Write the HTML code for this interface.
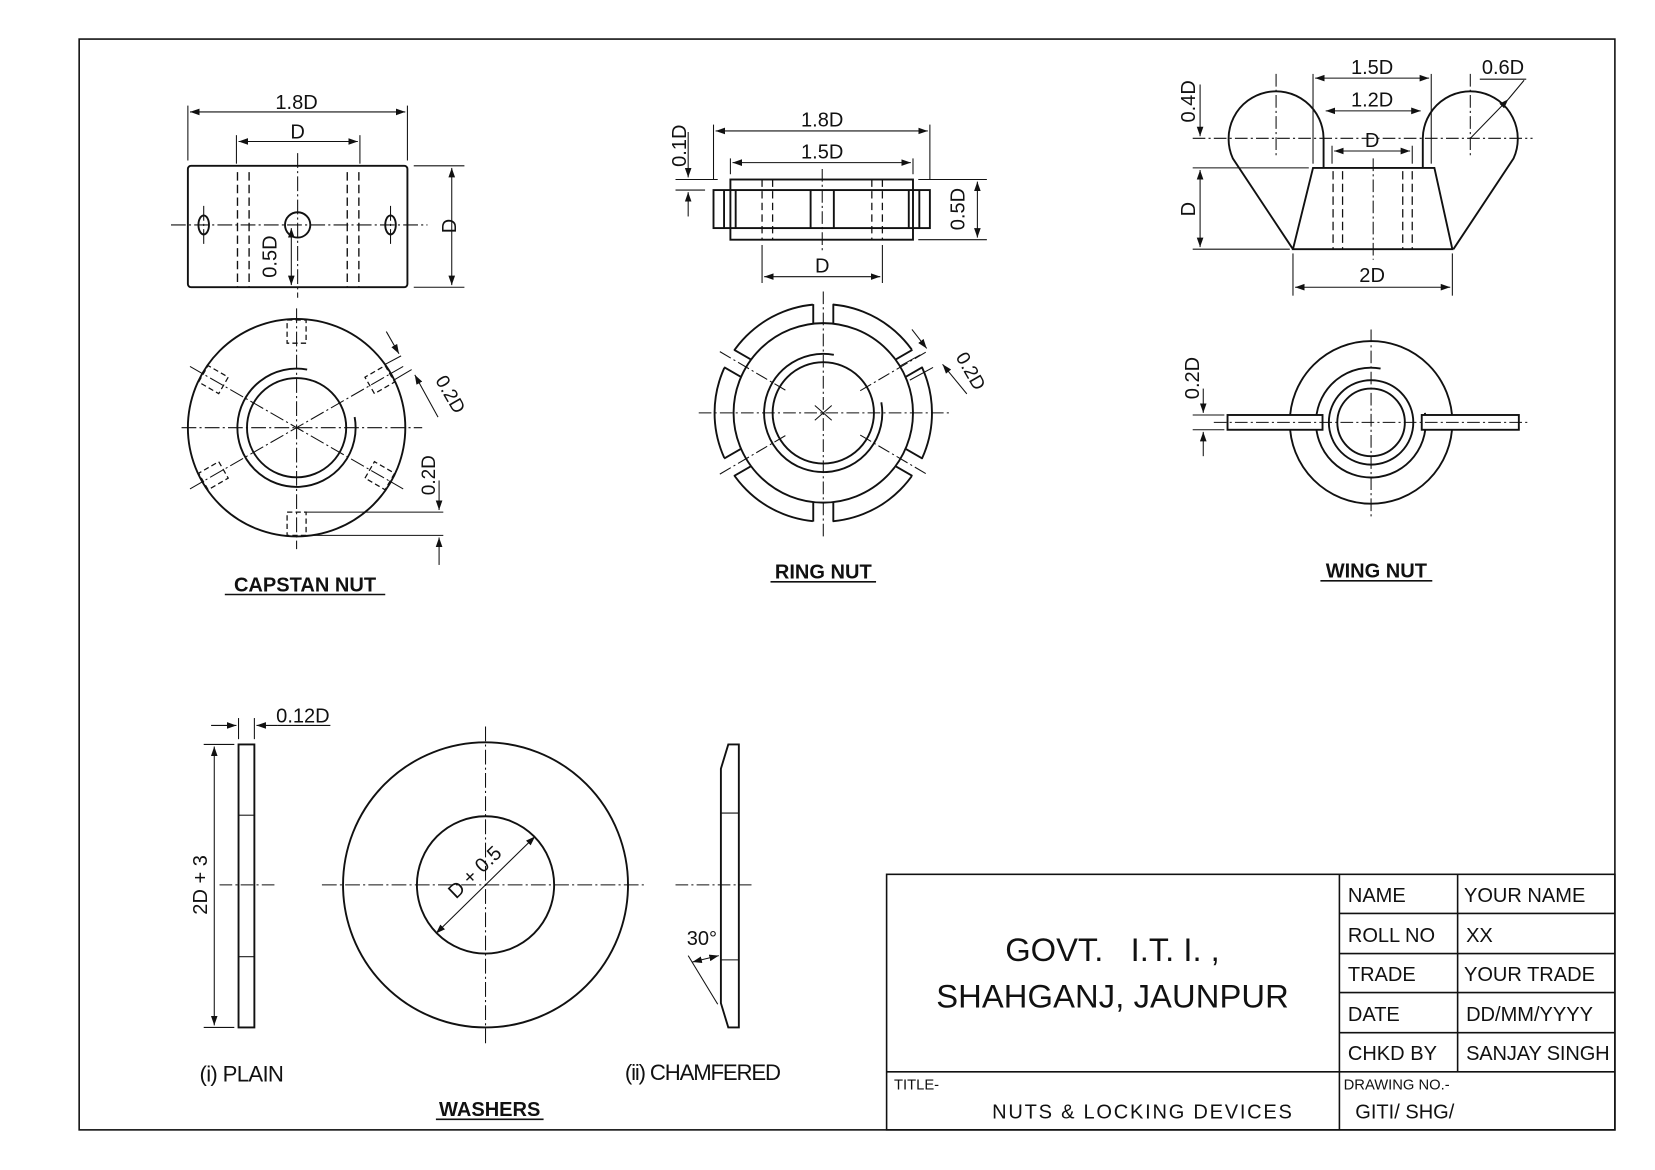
<!DOCTYPE html>
<html><head><meta charset="utf-8"><style>
html,body{margin:0;padding:0;background:#fff}
svg{display:block}
text{font-family:"Liberation Sans",Arial,sans-serif;fill:#111}
</style></head><body>
<svg width="1655" height="1170" viewBox="0 0 1568 1108" preserveAspectRatio="none" xmlns="http://www.w3.org/2000/svg">
<defs>
<marker id="a" viewBox="0 0 10 10" refX="10" refY="5" markerWidth="9" markerHeight="9" orient="auto-start-reverse"><path d="M0,1.5 L10,5 L0,8.5 Z" fill="#111"/></marker>
</defs>
<rect x="0" y="0" width="1568" height="1108" fill="#fff"/>
<rect x="75" y="37" width="1455" height="1033" fill="none" stroke="#111" stroke-width="1.5"/>

<g stroke="#111" fill="none" stroke-width="1.8">
<!-- ===== CAPSTAN NUT FRONT ===== -->
<rect x="178" y="157" width="208" height="115" rx="3"/>
<g stroke-width="1" stroke-dasharray="14,3,2,3"><line x1="162" y1="213" x2="405" y2="213"/><line x1="282" y1="145" x2="282" y2="282"/><line x1="193" y1="195" x2="193" y2="232"/><line x1="370" y1="195" x2="370" y2="232"/></g>
<g stroke-width="1.3" stroke-dasharray="8,4"><line x1="225" y1="163" x2="225" y2="272"/><line x1="236" y1="163" x2="236" y2="272"/><line x1="329" y1="163" x2="329" y2="272"/><line x1="340" y1="163" x2="340" y2="272"/></g>
<circle cx="282" cy="213" r="12"/><ellipse cx="193" cy="213" rx="5" ry="9"/><ellipse cx="370" cy="213" rx="5" ry="9"/>
<g stroke-width="1"><line x1="178" y1="100" x2="178" y2="152"/><line x1="386" y1="100" x2="386" y2="152"/><line x1="224" y1="128" x2="224" y2="155"/><line x1="341" y1="128" x2="341" y2="155"/><line x1="392" y1="157" x2="440" y2="157"/><line x1="392" y1="272" x2="440" y2="272"/>
<line x1="180" y1="106" x2="384" y2="106" marker-start="url(#a)" marker-end="url(#a)"/><line x1="226" y1="134" x2="339" y2="134" marker-start="url(#a)" marker-end="url(#a)"/><line x1="428" y1="159" x2="428" y2="270" marker-start="url(#a)" marker-end="url(#a)"/><line x1="276" y1="216" x2="276" y2="270" marker-start="url(#a)" marker-end="url(#a)"/></g>

<!-- ===== CAPSTAN NUT TOP ===== -->
<circle cx="281" cy="405" r="103"/><circle cx="281" cy="405" r="47"/>
<path d="M 291 350 A 56 56 0 1 0 336 395" />
<g stroke-width="1" stroke-dasharray="14,3,2,3"><line x1="172" y1="405" x2="400" y2="405"/><line x1="281" y1="292" x2="281" y2="520"/><line x1="180" y1="347" x2="382" y2="463"/><line x1="180" y1="463" x2="382" y2="347"/></g>
<g stroke-width="1.2" stroke-dasharray="5,3">
<rect x="272" y="303" width="18" height="22"/><rect x="272" y="485" width="18" height="22"/>
<g transform="rotate(-60 281 405)"><rect x="272" y="303" width="18" height="22"/><rect x="272" y="485" width="18" height="22"/></g>
<g transform="rotate(60 281 405)"><rect x="272" y="303" width="18" height="22"/><rect x="272" y="485" width="18" height="22"/></g>
</g>
<g stroke-width="1"><line x1="290" y1="485" x2="420" y2="485"/><line x1="290" y1="507" x2="420" y2="507"/><line x1="416" y1="455" x2="416" y2="483" marker-end="url(#a)"/><line x1="416" y1="535" x2="416" y2="509" marker-end="url(#a)"/>
<line x1="365" y1="345" x2="380" y2="337"/><line x1="373" y1="360" x2="390" y2="350"/><line x1="366" y1="314" x2="378" y2="335" marker-end="url(#a)"/><line x1="415" y1="395" x2="393" y2="355" marker-end="url(#a)"/></g>

<!-- ===== RING NUT FRONT ===== -->
<rect x="692" y="170" width="173" height="57"/><rect x="676" y="180" width="205" height="36"/>
<line x1="686" y1="180" x2="686" y2="216"/><line x1="871" y1="180" x2="871" y2="216"/><line x1="697" y1="180" x2="697" y2="216"/><line x1="861" y1="180" x2="861" y2="216"/><line x1="768" y1="180" x2="768" y2="216"/><line x1="790" y1="180" x2="790" y2="216"/>
<g stroke-width="1.2" stroke-dasharray="7,4"><line x1="722" y1="170" x2="722" y2="227"/><line x1="732" y1="170" x2="732" y2="227"/><line x1="826" y1="170" x2="826" y2="227"/><line x1="836" y1="170" x2="836" y2="227"/></g>
<line x1="779" y1="160" x2="779" y2="240" stroke-width="1" stroke-dasharray="12,3,2,3"/>
<g stroke-width="1"><line x1="676" y1="118" x2="676" y2="170"/><line x1="881" y1="118" x2="881" y2="170"/><line x1="692" y1="150" x2="692" y2="165"/><line x1="865" y1="150" x2="865" y2="165"/><line x1="722" y1="232" x2="722" y2="268"/><line x1="836" y1="232" x2="836" y2="268"/>
<line x1="678" y1="124" x2="879" y2="124" marker-start="url(#a)" marker-end="url(#a)"/><line x1="694" y1="154" x2="863" y2="154" marker-start="url(#a)" marker-end="url(#a)"/><line x1="724" y1="262" x2="834" y2="262" marker-start="url(#a)" marker-end="url(#a)"/>
<line x1="640" y1="170" x2="680" y2="170"/><line x1="640" y1="180" x2="668" y2="180"/><line x1="652" y1="125" x2="652" y2="168" marker-end="url(#a)"/><line x1="652" y1="205" x2="652" y2="182" marker-end="url(#a)"/>
<line x1="870" y1="170" x2="935" y2="170"/><line x1="870" y1="227" x2="935" y2="227"/><line x1="926" y1="172" x2="926" y2="225" marker-start="url(#a)" marker-end="url(#a)"/></g>

<!-- ===== RING NUT TOP ===== -->
<circle cx="780" cy="391" r="103"/>
<g fill="#fff" stroke="none">
<rect x="770" y="280" width="19" height="28"/><rect x="770" y="474" width="19" height="28"/>
<g transform="rotate(60 780 391)"><rect x="770" y="280" width="19" height="28"/><rect x="770" y="474" width="19" height="28"/></g>
<g transform="rotate(-60 780 391)"><rect x="770" y="280" width="19" height="28"/><rect x="770" y="474" width="19" height="28"/></g>
</g>
<circle cx="780" cy="391" r="85"/><circle cx="780" cy="391" r="48"/>
<path d="M 790 336 A 56 56 0 1 0 835 381"/>
<g>
<g id="sl"><line x1="770.5" y1="288" x2="770.5" y2="306"/><line x1="789.5" y1="288" x2="789.5" y2="306"/><line x1="770.5" y1="476" x2="770.5" y2="494"/><line x1="789.5" y1="476" x2="789.5" y2="494"/></g>
<use href="#sl" transform="rotate(60 780 391)"/><use href="#sl" transform="rotate(-60 780 391)"/>
</g>
<g stroke-width="1" stroke-dasharray="12,3,2,3"><line x1="662" y1="391" x2="900" y2="391"/><line x1="780" y1="276" x2="780" y2="510"/>
<line x1="682" y1="333" x2="745" y2="370"/><line x1="815" y1="412" x2="878" y2="449"/><line x1="682" y1="449" x2="745" y2="412"/><line x1="815" y1="370" x2="878" y2="333"/></g>
<g stroke-width="1"><line x1="772" y1="384" x2="788" y2="398"/><line x1="772" y1="398" x2="788" y2="384"/>
<line x1="916" y1="373" x2="893" y2="345" marker-end="url(#a)"/><line x1="864" y1="312" x2="878" y2="330" marker-end="url(#a)"/><line x1="852" y1="347" x2="872" y2="336"/><line x1="862" y1="360" x2="884" y2="348"/></g>

<!-- ===== WING NUT FRONT ===== -->
<path d="M1254,159 L1254,131 A45,45 0 1,0 1168,150 L1225,236"/>
<path d="M1348,159 L1348,131 A45,45 0 1,1 1434,150 L1377,236"/>
<path d="M1244,159 L1359,159 L1376,236 L1225,236 Z"/>
<g stroke-width="1.2" stroke-dasharray="8,4"><line x1="1263" y1="162" x2="1263" y2="236"/><line x1="1272" y1="162" x2="1272" y2="236"/><line x1="1329" y1="162" x2="1329" y2="236"/><line x1="1338" y1="162" x2="1338" y2="236"/></g>
<g stroke-width="1" stroke-dasharray="12,3,2,3"><line x1="1130" y1="131" x2="1452" y2="131"/><line x1="1209" y1="70" x2="1209" y2="150"/><line x1="1393" y1="70" x2="1393" y2="150"/><line x1="1301" y1="150" x2="1301" y2="246"/></g>
<g stroke-width="1"><line x1="1244" y1="70" x2="1244" y2="155"/><line x1="1356" y1="70" x2="1356" y2="155"/><line x1="1262" y1="138" x2="1262" y2="155"/><line x1="1338" y1="138" x2="1338" y2="155"/><line x1="1225" y1="240" x2="1225" y2="280"/><line x1="1376" y1="240" x2="1376" y2="280"/>
<line x1="1246" y1="74" x2="1354" y2="74" marker-start="url(#a)" marker-end="url(#a)"/><line x1="1256" y1="105" x2="1346" y2="105" marker-start="url(#a)" marker-end="url(#a)"/><line x1="1264" y1="143" x2="1336" y2="143" marker-start="url(#a)" marker-end="url(#a)"/><line x1="1227" y1="272" x2="1374" y2="272" marker-start="url(#a)" marker-end="url(#a)"/>
<line x1="1130" y1="159" x2="1240" y2="159"/><line x1="1130" y1="236" x2="1222" y2="236"/><line x1="1137" y1="80" x2="1137" y2="129" marker-end="url(#a)"/><line x1="1137" y1="161" x2="1137" y2="234" marker-start="url(#a)" marker-end="url(#a)"/>
<line x1="1393" y1="131" x2="1429" y2="94" marker-end="url(#a)"/><line x1="1429" y1="94" x2="1444" y2="76"/><line x1="1402" y1="75" x2="1446" y2="75"/></g>

<!-- ===== WING NUT TOP ===== -->
<circle cx="1299" cy="400" r="77"/><circle cx="1299" cy="400" r="40"/><circle cx="1299" cy="400" r="32"/>
<path d="M 1308 349 A 52 52 0 1 0 1350 391"/>
<rect x="1163" y="393" width="90" height="14" fill="#fff"/><rect x="1347" y="393" width="92" height="14" fill="#fff"/>
<g stroke-width="1" stroke-dasharray="12,3,2,3"><line x1="1150" y1="400" x2="1450" y2="400"/><line x1="1299" y1="312" x2="1299" y2="490"/></g>
<g stroke-width="1"><line x1="1130" y1="393" x2="1160" y2="393"/><line x1="1130" y1="407" x2="1160" y2="407"/><line x1="1140" y1="368" x2="1140" y2="391" marker-end="url(#a)"/><line x1="1140" y1="432" x2="1140" y2="409" marker-end="url(#a)"/></g>

<!-- ===== WASHERS ===== -->
<rect x="226" y="705" width="15" height="268"/><line x1="226" y1="772" x2="241" y2="772" stroke-width="1"/><line x1="226" y1="906" x2="241" y2="906" stroke-width="1"/>
<g stroke-width="1"><line x1="226" y1="680" x2="226" y2="700"/><line x1="241" y1="680" x2="241" y2="700"/><line x1="200" y1="687" x2="224" y2="687" marker-end="url(#a)"/><line x1="263" y1="687" x2="243" y2="687" marker-end="url(#a)"/><line x1="263" y1="687" x2="313" y2="687"/>
<line x1="193" y1="705" x2="222" y2="705"/><line x1="193" y1="973" x2="222" y2="973"/><line x1="203" y1="707" x2="203" y2="971" marker-start="url(#a)" marker-end="url(#a)"/></g>
<line x1="208" y1="838" x2="262" y2="838" stroke-width="1" stroke-dasharray="12,3,2,3"/>
<circle cx="460" cy="838" r="135"/><circle cx="460" cy="838" r="65"/>
<g stroke-width="1" stroke-dasharray="14,3,2,3"><line x1="305" y1="838" x2="612" y2="838"/><line x1="460" y1="688" x2="460" y2="990"/></g>
<line x1="413" y1="884" x2="507" y2="792" stroke-width="1" marker-start="url(#a)" marker-end="url(#a)"/>
<path d="M690,705 L700,705 L700,973 L690,973 L683,950 L683,728 Z"/>
<line x1="683" y1="770" x2="700" y2="770" stroke-width="1"/><line x1="683" y1="909" x2="700" y2="909" stroke-width="1"/>
<line x1="640" y1="838" x2="715" y2="838" stroke-width="1" stroke-dasharray="12,3,2,3"/>
<g stroke-width="1"><line x1="652" y1="905" x2="680" y2="951"/><line x1="656" y1="911" x2="681" y2="905" marker-start="url(#a)" marker-end="url(#a)"/></g>

<!-- ===== TITLE BLOCK ===== -->
<g stroke-width="1.5"><rect x="840" y="828" width="690" height="242"/><line x1="1269" y1="828" x2="1269" y2="1070"/><line x1="1381" y1="828" x2="1381" y2="1015"/><line x1="840" y1="1015" x2="1530" y2="1015"/>
<line x1="1269" y1="865" x2="1530" y2="865"/><line x1="1269" y1="903" x2="1530" y2="903"/><line x1="1269" y1="940" x2="1530" y2="940"/><line x1="1269" y1="978" x2="1530" y2="978"/></g>
</g>

<g font-size="19">
<text x="281" y="103" text-anchor="middle">1.8D</text><text x="282" y="131" text-anchor="middle">D</text>
<text transform="translate(432,214) rotate(-90)" text-anchor="middle">D</text>
<text transform="translate(262,243) rotate(-90)" text-anchor="middle">0.5D</text>
<text transform="translate(412,360) rotate(60)" font-size="18">0.2D</text>
<text transform="translate(412,469) rotate(-90)" font-size="18">0.2D</text>
<text x="779" y="120" text-anchor="middle">1.8D</text><text x="779" y="150" text-anchor="middle">1.5D</text><text x="779" y="258" text-anchor="middle">D</text>
<text transform="translate(650,138) rotate(-90)" text-anchor="middle">0.1D</text>
<text transform="translate(914,198) rotate(-90)" text-anchor="middle">0.5D</text>
<text transform="translate(905,338) rotate(60)" font-size="18">0.2D</text>
<text x="1300" y="70" text-anchor="middle">1.5D</text><text x="1300" y="101" text-anchor="middle">1.2D</text><text x="1300" y="139" text-anchor="middle">D</text><text x="1300" y="267" text-anchor="middle">2D</text>
<text x="1424" y="70" text-anchor="middle">0.6D</text>
<text transform="translate(1132,96) rotate(-90)" text-anchor="middle">0.4D</text>
<text transform="translate(1132,198) rotate(-90)" text-anchor="middle">D</text>
<text transform="translate(1136,358) rotate(-90)" text-anchor="middle">0.2D</text>
<text x="287" y="684" text-anchor="middle">0.12D</text>
<text transform="translate(196,838) rotate(-90)" text-anchor="middle">2D + 3</text>
<text transform="translate(432,852) rotate(-44)">D + 0.5</text>
<text x="665" y="895" text-anchor="middle">30°</text>
<text x="229" y="1024" text-anchor="middle" font-size="21" textLength="80">(i) PLAIN</text>
<text x="666" y="1023" text-anchor="middle" font-size="21" textLength="148">(ii) CHAMFERED</text>
</g>

<g font-weight="bold" font-size="19">
<text x="289" y="560" text-anchor="middle">CAPSTAN NUT</text>
<text x="780" y="548" text-anchor="middle">RING NUT</text>
<text x="1304" y="547" text-anchor="middle">WING NUT</text>
<text x="464" y="1057" text-anchor="middle">WASHERS</text>
</g>
<g stroke="#111" stroke-width="1.5"><line x1="213" y1="563" x2="365" y2="563"/><line x1="730" y1="551" x2="830" y2="551"/><line x1="1251" y1="550" x2="1357" y2="550"/><line x1="413" y1="1060" x2="515" y2="1060"/></g>

<g font-size="31"><text x="1054" y="910" text-anchor="middle">GOVT.&#160;&#160;&#160;I.T. I. ,</text><text x="1054" y="954" text-anchor="middle" textLength="334">SHAHGANJ, JAUNPUR</text></g>
<g font-size="19">
<text x="1277" y="854">NAME</text><text x="1387" y="854">YOUR NAME</text>
<text x="1277" y="892">ROLL NO</text><text x="1389" y="892">XX</text>
<text x="1277" y="929">TRADE</text><text x="1387" y="929">YOUR TRADE</text>
<text x="1277" y="967">DATE</text><text x="1389" y="967">DD/MM/YYYY</text>
<text x="1277" y="1004">CHKD BY</text><text x="1389" y="1004" textLength="136">SANJAY SINGH</text>
<text x="940" y="1059" textLength="284">NUTS &amp; LOCKING DEVICES</text>
<text x="1284" y="1059">GITI/ SHG/</text>
</g>
<g font-size="14"><text x="847" y="1032">TITLE-</text><text x="1273" y="1032">DRAWING NO.-</text></g>
</svg>
</body></html>
